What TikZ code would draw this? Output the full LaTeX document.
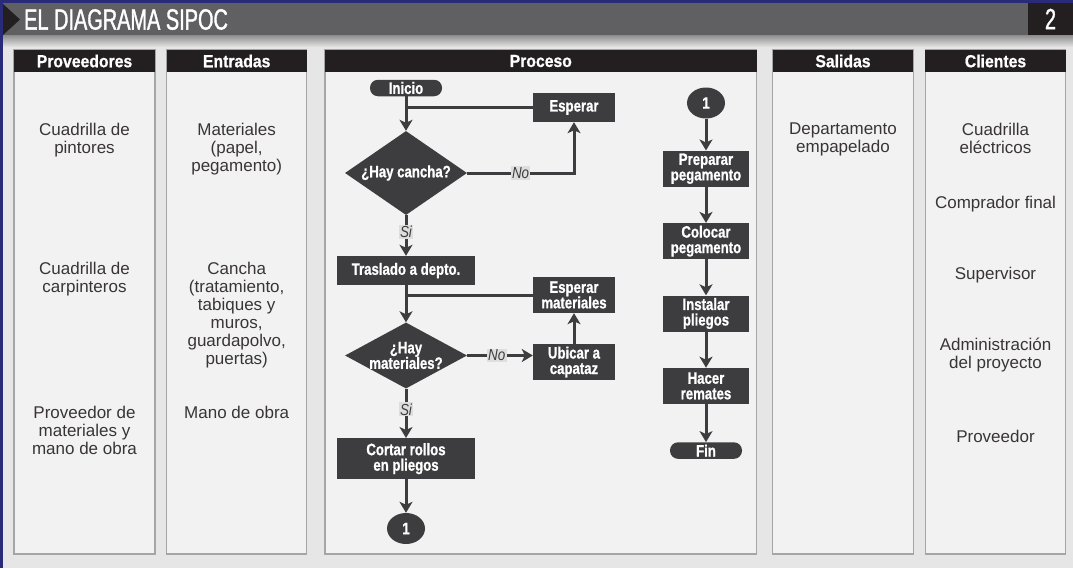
\documentclass[tikz,border=0pt]{standalone}
\usepackage{fontspec}
\setmainfont{Liberation Sans}
\newfontfamily\condfont[FakeStretch=0.84]{Liberation Sans}
\newfontfamily\heavyfont[FakeStretch=0.8, FakeBold=0.8]{Liberation Sans}
\newfontfamily\headfont[FakeStretch=0.9, FakeBold=0.8]{Liberation Sans}
\newfontfamily\titlefont[FakeStretch=0.68, FakeBold=1.2]{Liberation Sans}
\usetikzlibrary{arrows.meta,shapes.geometric,positioning}

\definecolor{navy}{HTML}{2A2B78}
\definecolor{bargray}{HTML}{606062}
\definecolor{pagegray}{HTML}{E6E6E6}
\definecolor{panelgray}{HTML}{F2F2F2}
\definecolor{inkblack}{HTML}{231F20}
\definecolor{boxgray}{HTML}{3D3D3F}
\definecolor{rimgray}{HTML}{A5A5A8}

\tikzset{
  colbox/.style={draw=rimgray, line width=1.3pt, fill=panelgray},
  colhead/.style={fill=inkblack, text=white, inner sep=0pt, minimum height=22pt,
    font=\headfont\bfseries\fontsize{17.5}{18}\selectfont},
  titletxt/.style={text=white, inner sep=0pt, font=\titlefont\fontsize{29.3}{30}\selectfont},
  item/.style={anchor=north, align=center, inner sep=0pt, text=inkblack!90,
    font=\fontsize{17}{18}\selectfont},
  proc/.style={rectangle, fill=boxgray, text=white, align=center, inner sep=0pt,
    font=\heavyfont\bfseries\fontsize{16.5}{15.5}\selectfont},
  term/.style={proc, rounded corners=8pt, minimum width=72pt, minimum height=16.5pt},
  conn/.style={proc, ellipse, minimum width=38pt, minimum height=31pt},
  decision/.style={diamond, fill=boxgray, inner sep=0pt, minimum width=122pt},
  dtxt/.style={text=white, align=center, inner sep=0pt,
    font=\heavyfont\bfseries\fontsize{16.5}{15.5}\selectfont},
  lbl/.style={fill=black!13, text=boxgray, inner sep=1.2pt,
    font=\condfont\itshape\fontsize{16}{16}\selectfont},
  flow/.style={draw=boxgray, line width=3pt}
}

\begin{document}
\begin{tikzpicture}[x=1pt, y=-1pt, >={Stealth[length=11pt,width=13pt,inset=3pt]}, node distance=36pt]
    % Page and title bar
    \useasboundingbox (0,0) rectangle (1073,568);
    \fill[pagegray] (0,0) rectangle (1073,568);
    \fill[bargray] (0,0) rectangle (1073,35);
    \shade[top color=black!45, bottom color=pagegray] (3,35) rectangle (1073,47);
    \fill[navy] (0,0) rectangle (1073,3);
    \fill[navy] (0,0) rectangle (3,568);
    \fill[inkblack] (3,4) -- (20,19.5) -- (3,35) -- cycle;
    \node[titletxt, anchor=west] (tit) at (24,19.5) {EL DIAGRAMA SIPOC};
    \node[titletxt, fill=inkblack, minimum width=45pt, minimum height=32pt] (num) at (1050.5,19) {2};

    % Columns
    \draw[colbox] (14,50) rectangle (155,554);
    \draw[colbox] (166.7,50) rectangle (306.7,554);
    \draw[colbox] (325,50) rectangle (756.7,554);
    \draw[colbox] (772.7,50) rectangle (913.3,554);
    \draw[colbox] (925.3,50) rectangle (1065.7,554);
    \node[colhead, minimum width=141pt]   (hprov) at (84.5,61)   {Proveedores};
    \node[colhead, minimum width=140pt]   (hent)  at (236.7,61)  {Entradas};
    \node[colhead, minimum width=431.7pt] (hproc) at (540.8,61)  {Proceso};
    \node[colhead, minimum width=140.6pt] (hsal)  at (843,61)    {Salidas};
    \node[colhead, minimum width=140.4pt] (hcli)  at (995.5,61)  {Clientes};

    % Proveedores
    \node[item] (p1) at (84.5,123) {Cuadrilla de\\pintores};
    \node[item] (p2) at (84.5,262) {Cuadrilla de\\carpinteros};
    \node[item] (p3) at (84.5,406) {Proveedor de\\materiales y\\mano de obra};

    % Entradas
    \node[item] (e1) at (236.7,123) {Materiales\\(papel,\\pegamento)};
    \node[item] (e2) at (236.7,262) {Cancha\\(tratamiento,\\tabiques y\\muros,\\guardapolvo,\\puertas)};
    \node[item] (e3) at (236.7,406) {Mano de obra};

    % Salidas
    \node[item] (s1) at (843,123) {Departamento\\empapelado};

    % Clientes
    \node[item] (k1) at (995.5,123) {Cuadrilla\\eléctricos};
    \node[item] (k2) at (995.5,196) {Comprador final};
    \node[item] (k3) at (995.5,267) {Supervisor};
    \node[item] (k4) at (995.5,338) {Administración\\del proyecto};
    \node[item] (k5) at (995.5,430) {Proveedor};

    % Proceso, first part
    \node[term] (ini) at (406,88) {Inicio};
    \node[proc, minimum width=82pt, minimum height=29pt] (esp) at (574,107.5) {Esperar};
    \node[decision, minimum height=84pt, label={[dtxt]center:{¿Hay cancha?}}] (hc) at (406,173) {};
    \node[proc, minimum width=138pt, minimum height=29pt] (tras) at (406,270.5) {Traslado a depto.};
    \node[proc, minimum width=82pt, minimum height=36pt] (espm) at (574,295) {Esperar\\materiales};
    \node[decision, minimum height=66pt, label={[dtxt]center:{¿Hay\\materiales?}}] (hm) at (406,355.5) {};
    \node[proc, minimum width=82pt, minimum height=36pt] (ubi) at (574,362) {Ubicar a\\capataz};
    \node[proc, minimum width=138pt, minimum height=41pt] (cort) at (406,458.7) {Cortar rollos\\en pliegos};
    \node[conn] (ca) at (406,528.5) {1};

    % Proceso, second part
    \node[conn] (cb) at (706,103) {1};
    \node[proc, minimum width=86pt, minimum height=36pt] (prep) at (706,168.7) {Preparar\\pegamento};
    \node[proc, minimum width=86pt, minimum height=36pt] (colo) [below=of prep] {Colocar\\pegamento};
    \node[proc, minimum width=86pt, minimum height=36pt] (inst) [below=of colo] {Instalar\\pliegos};
    \node[proc, minimum width=86pt, minimum height=36pt] (rem)  [below=of inst] {Hacer\\remates};
    \node[term] (fin) [below=38pt of rem] {Fin};

    % Paths
    \draw[flow,->] (ini) -- (hc);
    \draw[flow] (esp) -- (esp -| ini);
    \draw[flow,->] (hc.east) -- node[lbl] {No} (hc.east -| esp) -- (esp);
    \draw[flow,->] (hc) -- node[lbl, pos=0.42] {Si} (tras);
    \draw[flow] (espm) -- (espm -| tras);
    \draw[flow,->] (tras) -- (hm);
    \draw[flow,->] (hm.east) -- node[lbl, pos=0.45] {No} (hm.east -| ubi.west);
    \draw[flow,->] (ubi) -- (espm);
    \draw[flow,->] (hm) -- node[lbl, pos=0.42] {Si} (cort);
    \draw[flow,->] (cort) -- (ca);
    \draw[flow,->] (cb) -- (prep);
    \draw[flow,->] (prep) -- (colo);
    \draw[flow,->] (colo) -- (inst);
    \draw[flow,->] (inst) -- (rem);
    \draw[flow,->] (rem) -- (fin);
\end{tikzpicture}
\end{document}
